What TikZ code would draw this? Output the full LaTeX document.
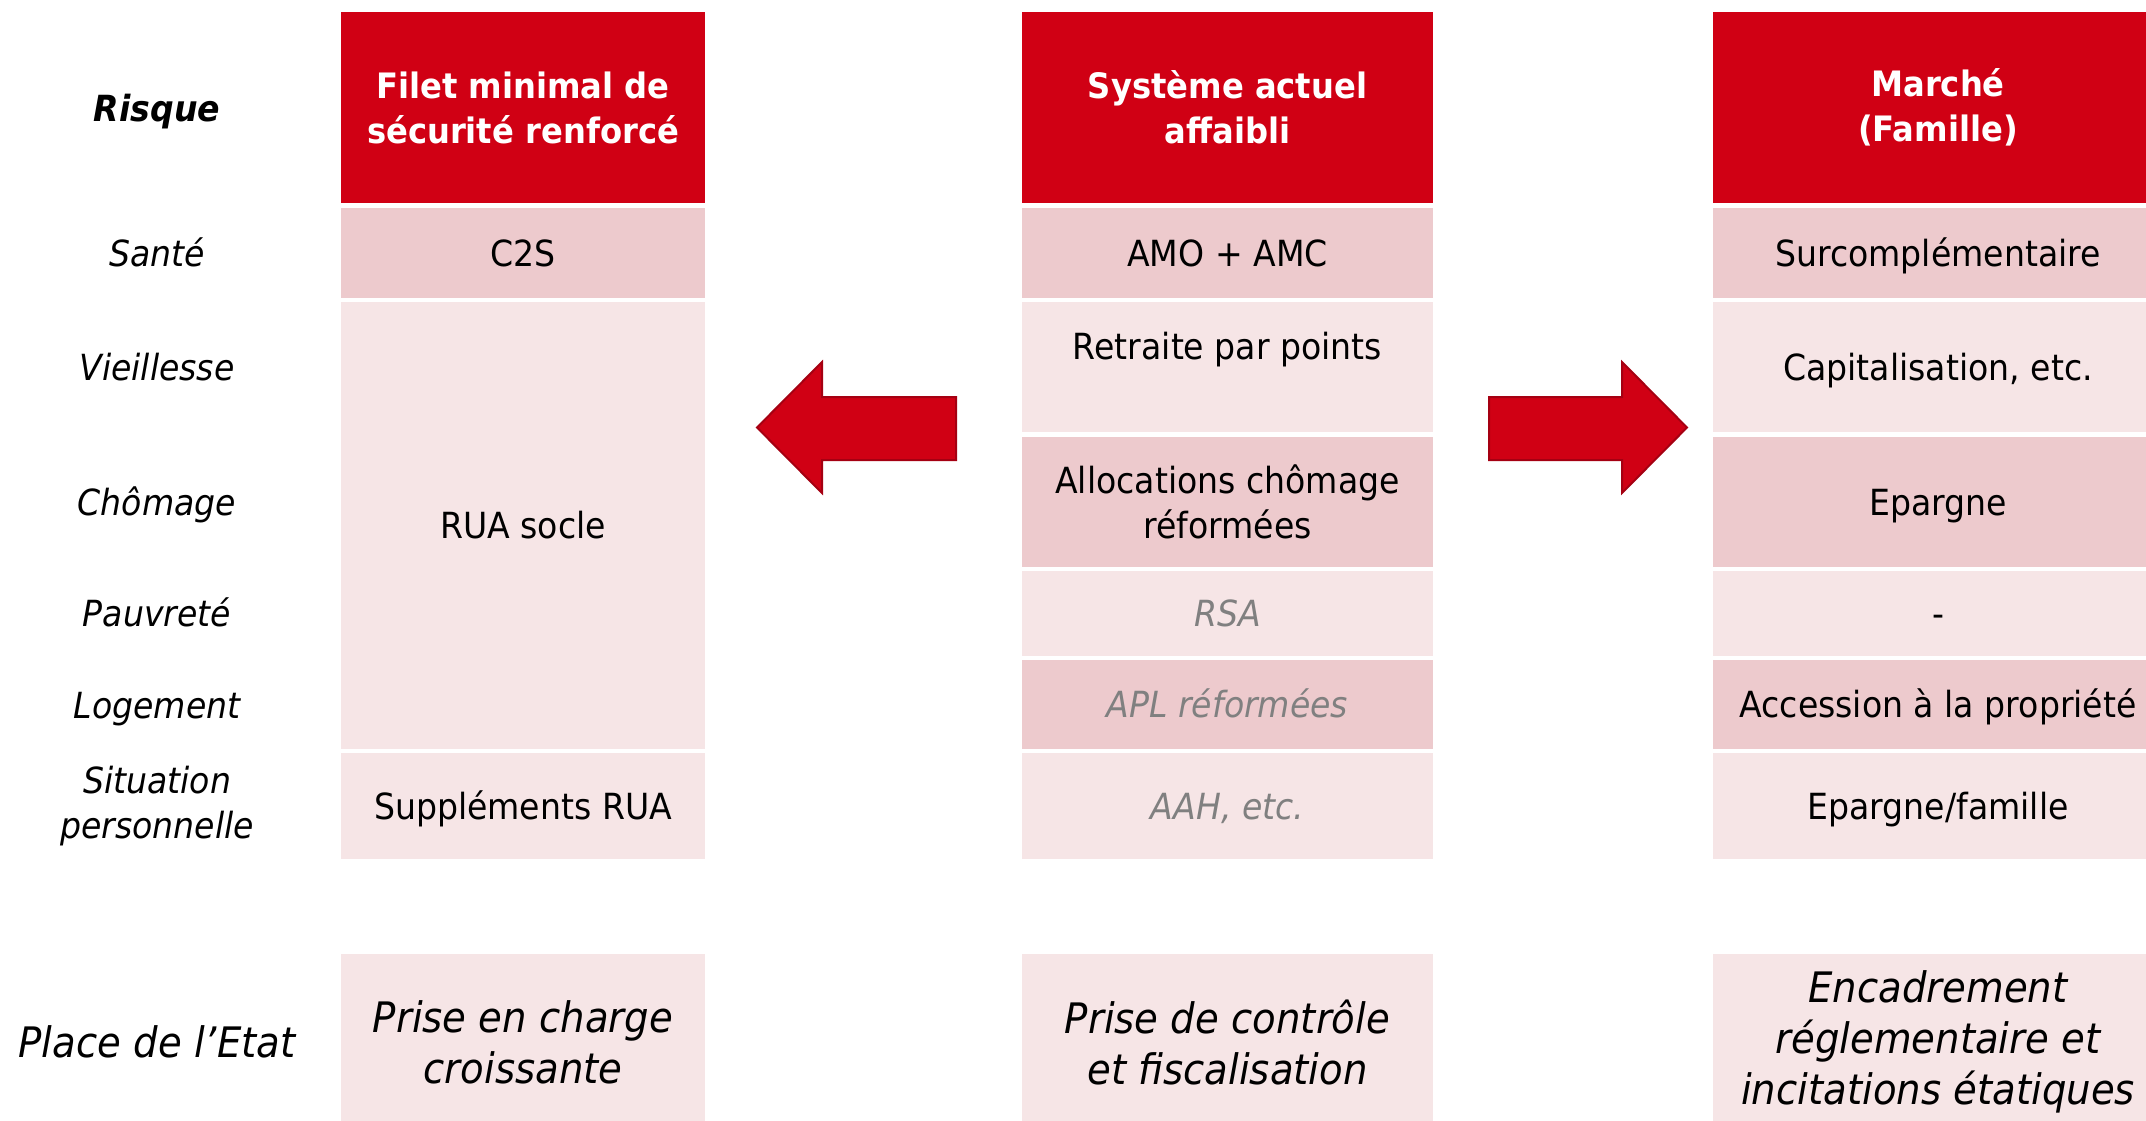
\documentclass[tikz,border=0pt]{standalone}
\usepackage{fontspec}
\setmainfont{DejaVu Sans}[FakeStretch=0.92]
\definecolor{hdr}{RGB}{208,0,20}
\definecolor{dpink}{RGB}{237,202,205}
\definecolor{lpink}{RGB}{246,229,230}
\definecolor{gtxt}{RGB}{128,128,128}
\definecolor{arredge}{RGB}{165,0,18}
\newcommand\cellfont{\fontsize{36bp}{45bp}\selectfont}
\newcommand\hdrfont{\fontsize{35bp}{45bp}\selectfont}
\newcommand\bigfont{\fontsize{42bp}{51bp}\selectfont}
\tikzset{
  cell/.style={inner sep=0pt, font=\cellfont, text=black},
  multi/.style={align=center},
  hcell/.style={cell, multi, fill=hdr, text=white, font=\hdrfont\bfseries, minimum height=191bp},
  dcell/.style={cell, fill=dpink},
  lcell/.style={cell, fill=lpink},
  wA/.style={minimum width=364bp},
  wB/.style={minimum width=411bp},
  wC/.style={minimum width=450bp},
  one/.style={text height=30bp, text depth=4bp},
  rlabel/.style={inner sep=0pt, font=\cellfont\itshape, one},
  gray/.style={text=gtxt, font=\cellfont\itshape},
  btm/.style={lcell, multi, font=\bigfont\itshape, minimum height=176bp},
  bigarrow/.style={fill=hdr, draw=arredge, line width=2bp, line join=miter}
}
\begin{document}
\begin{tikzpicture}[x=1bp,y=-1bp]
\useasboundingbox (0,0) rectangle (2146,1120);
\clip (0,0) rectangle (2146,1120);

% row labels
\node[rlabel, font=\cellfont\bfseries\itshape] (lrisque) at (157,108) {Risque};
\node[rlabel] (lsante) at (157,253) {Santé};
\node[rlabel] (lvieil) at (157,367) {Vieillesse};
\node[rlabel] (lchom) at (157,502) {Chômage};
\node[rlabel] (lpauv) at (157,613) {Pauvreté};
\node[rlabel] (lloge) at (157,705) {Logement};
\node[inner sep=0pt, multi, font=\cellfont\itshape] (lsitu) at (157,806) {Situation\\personnelle};
\node[inner sep=0pt, font=\bigfont\itshape, text height=35bp, text depth=5bp] (letat) at (157,1042) {Place de l’Etat};

% column 1
\node[hcell, wA] (h1) at (523,107.5) {Filet minimal de\\sécurité renforcé};
\node[dcell, wA, minimum height=90bp, one] (c1sante) at (523,253) {C2S};
\node[lcell, wA, minimum height=447bp, one] (c1rua) at (523,525.5) {RUA socle};
\node[lcell, wA, minimum height=106bp, one] (c1situ) at (523,806) {Suppléments RUA};
\node[btm, wA] (c1etat) at (523,1042) {Prise en charge\\croissante};

% column 2
\node[hcell, wB] (h2) at (1227.5,107.5) {Système actuel\\affaibli};
\node[dcell, wB, minimum height=90bp, one] (c2sante) at (1227.5,253) {AMO + AMC};
\node[lcell, wB, minimum height=130bp] (c2vieil) at (1227.5,367) {};
\node[inner sep=0pt, font=\cellfont, one] (c2vieilt) at (1227.5,346) {Retraite par points};
\node[dcell, multi, wB, minimum height=130bp] (c2chom) at (1227.5,502) {Allocations chômage\\réformées};
\node[lcell, wB, minimum height=85bp, one, gray] (c2pauv) at (1227.5,613.5) {RSA};
\node[dcell, wB, minimum height=89bp, one, gray] (c2loge) at (1227.5,704.5) {APL réformées};
\node[lcell, wB, minimum height=106bp, one, gray] (c2situ) at (1227.5,806) {AAH, etc.};
\node[btm, wB] (c2etat) at (1227.5,1042) {Prise de contrôle\\et fiscalisation};

% column 3
\node[hcell, wC] (h3) at (1938,107.5) {Marché\\(Famille)};
\node[dcell, wC, minimum height=90bp, one] (c3sante) at (1938,253) {Surcomplémentaire};
\node[lcell, wC, minimum height=130bp, one] (c3vieil) at (1938,367) {Capitalisation, etc.};
\node[dcell, wC, minimum height=130bp, one] (c3chom) at (1938,502) {Epargne};
\node[lcell, wC, minimum height=85bp, one] (c3pauv) at (1938,613.5) {-};
\node[dcell, wC, minimum height=89bp, one] (c3loge) at (1938,704.5) {Accession à la propriété};
\node[lcell, wC, minimum height=106bp, one] (c3situ) at (1938,806) {Epargne/famille};
\node[btm, wC] (c3etat) at (1938,1042) {Encadrement\\réglementaire et\\incitations étatiques};

% block arrows
\draw[bigarrow] (757,427.5) -- (822,362) -- (822,397) -- (956,397) -- (956,460) -- (822,460) -- (822,493) -- cycle;
\draw[bigarrow] (1687,427.5) -- (1622,362) -- (1622,397) -- (1489,397) -- (1489,460) -- (1622,460) -- (1622,493) -- cycle;
\end{tikzpicture}
\end{document}
